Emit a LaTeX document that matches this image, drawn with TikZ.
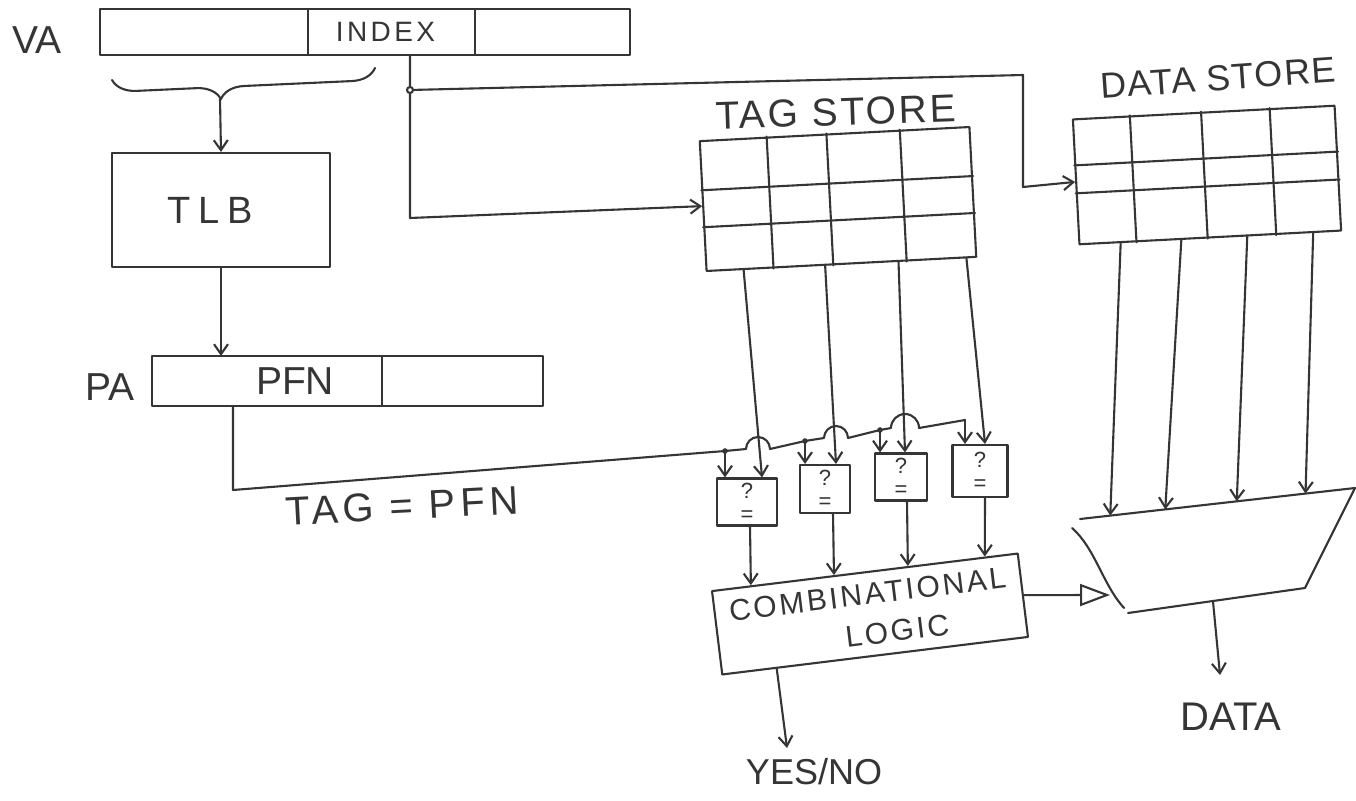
\documentclass[tikz,border=0pt]{standalone}
\usepackage{fontspec}
\setmainfont{Liberation Sans}
\usetikzlibrary{arrows.meta,calc,decorations.pathreplacing}
\definecolor{ink}{HTML}{353535}
\newcommand\handfs[1]{\fontsize{#1}{#1}\selectfont}
\begin{document}
\begin{tikzpicture}[x=1pt,y=-1pt,
  every node/.append style={text=ink},
  line/.style={draw=ink, line width=2.1pt, line cap=round, line join=round},
  arr/.style={line, -{Straight Barb[length=10pt,width=14pt]}},
  field/.style={line, minimum height=46pt, inner sep=0pt, outer sep=0pt},
  lbl/.style={inner sep=0pt},
  cmp/.style={line, inner sep=0pt, align=center, font=\fontsize{22}{23}\selectfont}]
\fill[white] (0,0) rectangle (1356,800);
\useasboundingbox (0,0) rectangle (1356,800);

% ---- VA ----
\node[lbl, font=\handfs{39}] (valbl) at (37,40) {VA};
\node[field, minimum width=208pt] (va1) at (204,32) {};
\node[field, minimum width=167pt, font=\handfs{28}\addfontfeature{LetterSpace=12}] (va2) at (391.5,32) {\hspace*{-12pt}INDEX};
\node[field, minimum width=155pt] (va3) at (552.5,32) {};

% brace
\coordinate (br1) at (375,68);
\coordinate (br2) at (112,80);
\draw[line, decorate, decoration={brace, amplitude=24pt, aspect=0.59}] (br1) -- (br2);
\coordinate (brtip) at (220,99);

% ---- TLB ----
\node[line, minimum width=218pt, minimum height=114pt, font=\handfs{38}\addfontfeature{LetterSpace=20}] (tlb) at (221,210) {\hspace*{-22pt}TLB};
\draw[arr] (brtip) -- (tlb.north);

% ---- PA ----
\node[lbl, font=\handfs{39}] (palbl) at (110,387) {PA};
\node[field, minimum width=230pt, minimum height=50pt, font=\handfs{39}] (pa1) at (267,381) {\hspace*{56pt}PFN};
\node[field, minimum width=161pt, minimum height=50pt] (pa2) at (462.5,381) {};
\draw[arr] (tlb.south) -- (tlb.south |- pa1.north);

\node[lbl, font=\handfs{40}\addfontfeature{LetterSpace=12}, rotate=3] (tageq) at (402,506) {TAG = PFN};

% ---- Tag store ----
\node[lbl, font=\handfs{39}\addfontfeature{LetterSpace=7}, rotate=2] (tslbl) at (836,112) {TAG STORE};
\node[line, minimum width=270pt, minimum height=130pt, rotate=3] (ts) at (838,199) {};
\foreach \f in {0.25,0.47,0.74}
  \draw[line] ($(ts.north west)!\f!(ts.north east)$) -- ($(ts.south west)!\f!(ts.south east)$);
\foreach \f in {0.38,0.66}
  \draw[line] ($(ts.north west)!\f!(ts.south west)$) -- ($(ts.north east)!\f!(ts.south east)$);

% ---- Data store ----
\node[lbl, font=\handfs{36}\addfontfeature{LetterSpace=4}, rotate=4] (dslbl) at (1218,78) {DATA STORE};
\node[line, minimum width=262pt, minimum height=125pt, rotate=3] (ds) at (1207,175) {};
\foreach \f in {0.22,0.49,0.75}
  \draw[line] ($(ds.north west)!\f!(ds.north east)$) -- ($(ds.south west)!\f!(ds.south east)$);
\foreach \f in {0.37,0.59}
  \draw[line] ($(ds.north west)!\f!(ds.south west)$) -- ($(ds.north east)!\f!(ds.south east)$);

% ---- Index lines ----
\coordinate (idx) at ($(va2.south west)+(102,0)$);
\coordinate (idxc) at (410,218);
\coordinate (jn) at (410,90);
\coordinate (dsc1) at (1023,75);
\coordinate (dsc2) at (1023,187);
\draw[arr] (idx) -- (idxc) -- (ts.west);
\draw[arr] (jn) -- (dsc1) -- (dsc2) -- (ds.west);
\draw[line, fill=white] (jn) circle[radius=3pt];

% ---- Comparators ----
\node[cmp, minimum width=60pt, minimum height=47pt] (c1) at (747,502) {?\\=};
\node[cmp, minimum width=50pt, minimum height=48pt] (c2) at (825,489) {?\\=};
\node[cmp, minimum width=52pt, minimum height=47pt] (c3) at (901,477) {?\\=};
\node[cmp, minimum width=55pt, minimum height=52pt] (c4) at (980,471) {?\\=};

% PFN bus with hops
\coordinate (pfnout) at ($(pa1.south west)+(81,0)$);
\coordinate (pfnc) at (233,490);
\coordinate (tap1) at (725,451);
\coordinate (tap2) at (805,441);
\coordinate (tap3) at (880,430);
\coordinate (tap4) at (965,420);
\draw[line] (pfnout) -- (pfnc) -- (tap1) -- (746,449)
  arc[start angle=180, end angle=0, radius=12pt] -- (tap2) -- (824,438)
  arc[start angle=180, end angle=0, radius=12pt] -- (tap3) -- (891,428)
  arc[start angle=180, end angle=0, radius=14pt] -- (tap4);
\foreach \i in {1,2,3,4}
  \draw[arr] (tap\i) -- (tap\i |- c\i.north);
\foreach \i in {1,2,3}
  \fill[ink] (tap\i) circle[radius=2.8pt];

% tag store outputs
\foreach \f/\o [count=\i] in {0.14/15, 0.44/11, 0.71/4, 0.96/5} {
  \coordinate (to\i) at ($(ts.south west)!\f!(ts.south east)$);
  \draw[arr] (to\i) -- ($(c\i.north)+(\o,0)$);
}

% ---- Combinational logic ----
\node[line, minimum width=308pt, minimum height=84pt, rotate=7, align=center,
      font=\fontsize{30}{40}\selectfont\addfontfeature{LetterSpace=9}] (comb) at (870,614)
      {COMBINATIONAL\\\hspace*{50pt}LOGIC};
\foreach \o/\t [count=\i] in {3/0.13, 8/0.40, 6/0.64, 5/0.89} {
  \coordinate (ci\i) at ($(comb.north west)!\t!(comb.north east)$);
  \draw[arr] ($(c\i.south)+(\o,0)$) -- (ci\i);
}
\coordinate (cout) at ($(comb.south west)!0.18!(comb.south east)$);
\coordinate (yesin) at (787,748);
\draw[arr] (cout) -- (yesin);
\node[lbl, font=\handfs{36}] (yes) at (814,772) {YES/NO};

% ---- Mux ----
\coordinate (mtl) at (1080,519);
\coordinate (mtr) at (1355,488);
\coordinate (mrb) at (1305,588);
\coordinate (mbl) at (1128,613);
\coordinate (mlt) at (1072,528);
\coordinate (mlb) at (1124,608);
\draw[line] (mtl) -- (mtr) -- (mrb) -- (mbl);
\draw[line] (mlt) .. controls (1095,548) and (1103,585) .. (mlb);
\foreach \f/\s [count=\i] in {0.16/0.11, 0.39/0.31, 0.64/0.57, 0.89/0.82} {
  \coordinate (do\i) at ($(ds.south west)!\f!(ds.south east)$);
  \coordinate (mi\i) at ($(mtl)!\s!(mtr)$);
  \draw[arr] (do\i) -- (mi\i);
}
\coordinate (msel) at (1110,595);
\draw[line, -{Triangle[open, length=30pt, width=22pt]}] (comb.east) -- (msel);
\coordinate (mout) at ($(mbl)!0.48!(mrb)$);
\coordinate (dout) at (1220,675);
\draw[arr] (mout) -- (dout);
\node[lbl, font=\handfs{40}] (data) at (1231,717) {DATA};
\end{tikzpicture}
\end{document}
